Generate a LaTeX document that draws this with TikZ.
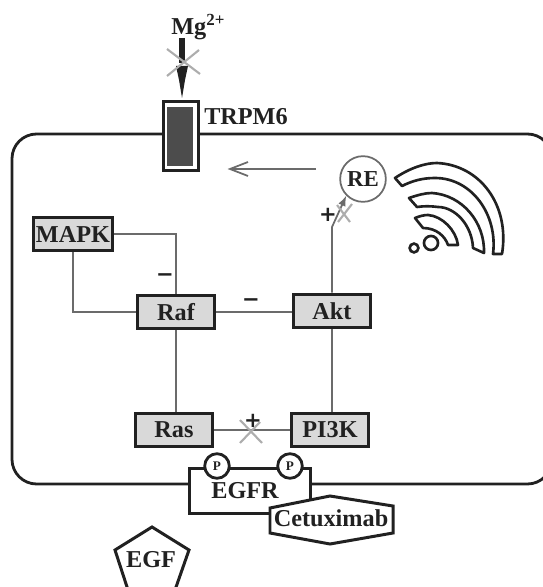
\documentclass[tikz,border=0pt]{standalone}
\usepackage{fontspec}
\setmainfont{Liberation Serif}
\newfontfamily\signfont{DejaVu Sans}
\definecolor{boxgray}{gray}{0.85}
\definecolor{linegray}{gray}{0.42}
\definecolor{crossgray}{gray}{0.68}
\definecolor{darkink}{gray}{0.13}
\tikzset{
    protein/.style={draw=darkink, line width=1.7pt, fill=boxgray, inner sep=0pt,
        font=\fontsize{13.8}{14}\selectfont\bfseries, text=darkink},
    link/.style={draw=linegray, line width=1pt},
    crossbar/.style={draw=crossgray, line width=1.2pt},
    sign/.style={font=\signfont\fontsize{12}{12}\selectfont\bfseries, inner sep=0pt, text=darkink},
    phospho/.style={circle, draw=darkink, line width=1.6pt, fill=white, minimum size=14pt, inner sep=0pt,
        font=\fontsize{7.5}{8}\selectfont\bfseries, text=darkink},
    lbl/.style={font=\fontsize{13.8}{14}\selectfont\bfseries, inner sep=0pt, text=darkink},
    wave/.style={draw=darkink, line width=1.5pt, fill=white, line join=round}
}
\begin{document}
\begin{tikzpicture}[x=0.02cm, y=-0.02cm, >={latex}]
    \useasboundingbox (0,0) rectangle (543,587);

    % --- cell membrane ---
    \draw[draw=darkink, line width=1.6pt, rounded corners=14] (12,134) rectangle (552,484);

    % --- proteins ---
    \node[protein, minimum width=45.4pt, minimum height=19.3pt] (MAPK) at (73,234) {MAPK};
    \node[protein, minimum width=43.7pt, minimum height=19.3pt] (Raf) at (176,312) {Raf};
    \node[protein, minimum width=43.7pt, minimum height=19.3pt] (Akt) at (332,311) {Akt};
    \node[protein, minimum width=43.7pt, minimum height=19.3pt] (Ras) at (174,430) {Ras};
    \node[protein, minimum width=43.7pt, minimum height=19.3pt] (PI3K) at (330,430) {PI3K};
    \node[circle, draw=linegray, line width=1pt, minimum size=26pt, inner sep=0pt, font=\fontsize{13}{14}\selectfont\bfseries, text=darkink] (RE) at (363,179) {RE};

    % --- links ---
    \draw[link] (MAPK.east) -| (Raf.north);
    \draw[link] (MAPK.south) |- (Raf.west);
    \draw[link] (Raf.east) -- (Raf.east -| Akt.west);
    \draw[link] (Raf.south) -- (Raf.south |- Ras.north);
    \draw[link] (Akt.south) -- (Akt.south |- PI3K.north);
    \draw[link] (Ras) -- (PI3K);
    \coordinate (bend) at (332,227);
    \draw[link, ->] (Akt.north) -- (bend) -- (RE.south west);

    % --- signs and crosses ---
    \node[sign] (minusA) at (165,278) {−};
    \node[sign] (minusB) at (251,303) {−};
    \node[sign] (plusA) at (328,215) {+};
    \node[sign] (plusB) at (253,421) {+};
    \draw[crossbar] (240,420) -- (262,443);
    \draw[crossbar] (260,422) -- (240,443);
    \draw[crossbar] (337,205) -- (350,222);
    \draw[crossbar] (338,222) -- (352,204);

    % --- channel ---
    \node[draw=darkink, line width=1.8pt, fill=white, minimum width=20pt, minimum height=39.5pt, inner sep=0pt] (TRPM) at (181,136) {};
    \fill[black!70] (167,107) rectangle (193,166);
    \node[lbl] (TRPMlabel) at (246,117) {TRPM6};
    \node[lbl, anchor=south west] (Mg) at (171,40) {Mg\textsuperscript{2+}};

    % --- inhibited Mg arrow ---
    \coordinate (mgstart) at (182,38);
    \coordinate (mgneck) at (182,63);
    \draw[draw=darkink, line width=3.2pt] (mgstart) -- (mgneck);
    \fill[darkink] (176,66) -- (188,66) -- (185,80) -- (182,98) -- (179,80) -- cycle;
    \draw[crossbar] (167,49) -- (200,74);
    \draw[crossbar] (199,50) -- (167,76);

    % --- arrow to the channel ---
    \coordinate (backstart) at (316,169);
    \coordinate (backend) at (230,169);
    \draw[link] (backstart) -- (backend);
    \draw[link] (248,162) -- (backend) -- (248,176);

    % --- waves ---
    \draw[wave] (395,178) .. controls (410,168) and (425,163) .. (437,163)
        .. controls (480,165) and (510,205) .. (502,254) -- (493,254)
        .. controls (498,215) and (472,178) .. (435,178)
        .. controls (422,178) and (412,181) .. (402,186) -- cycle;
    \draw[wave] (409,198) .. controls (418,195) and (425,193) .. (432,193)
        .. controls (462,195) and (485,222) .. (484,253) -- (473,248)
        .. controls (472,225) and (455,207) .. (438,207)
        .. controls (430,206) and (424,206) .. (417,207) -- cycle;
    \draw[wave] (415,218) .. controls (420,216) and (424,215) .. (428,215)
        .. controls (442,216) and (456,230) .. (458,245) -- (448,245)
        .. controls (445,236) and (436,228) .. (423,228) -- cycle;
    \node[circle, draw=darkink, line width=1.5pt, minimum size=8pt, inner sep=0pt] (dotA) at (431,243) {};
    \node[circle, draw=darkink, line width=1.5pt, minimum size=5pt, inner sep=0pt] (dotB) at (414,248) {};

    % --- receptor ---
    \node[draw=darkink, line width=1.7pt, fill=white, minimum width=69pt, minimum height=26pt, inner sep=0pt] (EGFRbox) at (250,491) {};
    \node[lbl] (EGFR) at (245,491) {EGFR};
    \node[phospho] (Pa) at (217,466) {P};
    \node[phospho] (Pb) at (290,466) {P};

    % --- antibody and ligand ---
    \draw[draw=darkink, line width=1.7pt, fill=white] (270,508) -- (330,496) -- (393,506) -- (393,533) -- (330,544) -- (270,533) -- cycle;
    \node[lbl] (Cetuximab) at (331,518) {Cetuximab};
    \draw[draw=darkink, line width=1.7pt] (128,590) -- (115,550) -- (152,527) -- (189,550) -- (175,590);
    \node[lbl] (EGF) at (151,560) {EGF};
\end{tikzpicture}
\end{document}
